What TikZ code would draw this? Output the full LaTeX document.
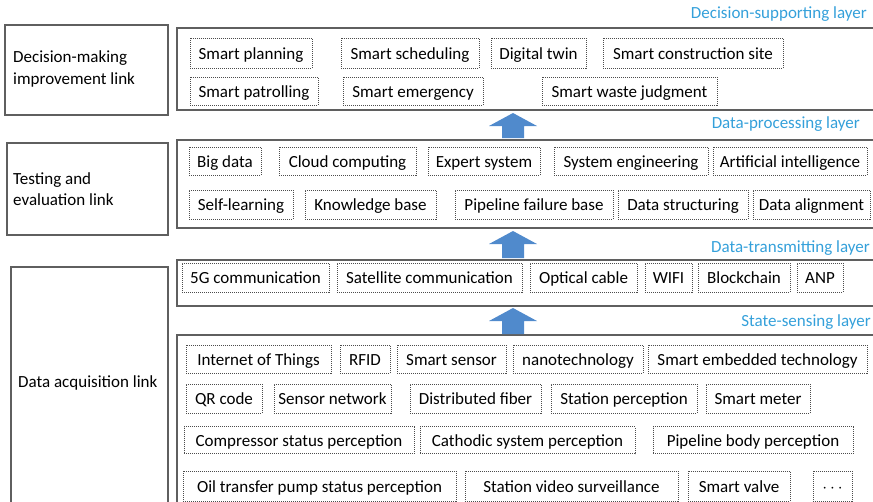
\documentclass[tikz,border=0pt]{standalone}
\usepackage{fontspec}
\setmainfont{Carlito}
\definecolor{layerblue}{RGB}{52,160,218}
\definecolor{arrowblue}{RGB}{80,138,204}
\definecolor{framegray}{RGB}{95,95,95}
\tikzset{
  frame/.style={draw=framegray, line width=1.6pt},
  item/.style={draw=framegray!80!black, line width=1pt, densely dotted, inner xsep=1pt, inner ysep=0pt,
    text height=13pt, text depth=1pt, font=\fontsize{17}{20}\selectfont},
  layername/.style={text=layerblue, anchor=east, inner sep=0pt, font=\fontsize{17}{20}\selectfont},
  linkname/.style={anchor=west, align=left, inner sep=0pt, font=\fontsize{17}{21.5}\selectfont},
  uparrow/.style={fill=arrowblue}
}
\begin{document}
\begin{tikzpicture}[x=1pt,y=-1pt]
  \useasboundingbox (0,0) rectangle (873,501);
  \clip (0,0) rectangle (873,501);

  % Left link boxes
  \draw[frame] (5,25) rectangle (168,115);
  \node[linkname] (decisionlink) at (13,69) {Decision-making\\improvement link};
  \draw[frame] (7,143) rectangle (168,235);
  \node[linkname] (testinglink) at (13,189) {Testing and\\evaluation link};
  \draw[frame] (11,267) rectangle (168,520);
  \node[linkname] (acquisitionlink) at (18,383) {Data acquisition link};

  % Layer frames
  \draw[frame] (177,28) rectangle (890,110);
  \draw[frame] (177,140) rectangle (890,228);
  \draw[frame] (177,260) rectangle (890,306);
  \draw[frame] (177,335) rectangle (890,520);

  % Layer names
  \node[layername] (decisionlayer) at (867,14) {Decision-supporting layer};
  \node[layername] (processinglayer) at (860,124) {Data-processing layer};
  \node[layername] (transmittinglayer) at (870,248) {Data-transmitting layer};
  \node[layername] (sensinglayer) at (871,322) {State-sensing layer};

  % Arrows between layers
  \foreach \yt/\yb in {113/138, 231/258, 308/334} {
    \fill[uparrow] (513,\yt) -- (537,\yt+13) -- (524,\yt+13) -- (524,\yb)
      -- (502,\yb) -- (502,\yt+13) -- (489,\yt+13) -- cycle; % Block arrow
  }

  % Decision-supporting layer
  \foreach \a/\b/\t [count=\i] in {190/312/Smart planning, 341/479/Smart scheduling,
      491/586/Digital twin, 603/783/Smart construction site}
    \node[item, minimum width=\b-\a, minimum height=30] (dsA\i) at ({(\a+\b)/2},53) {\t};
  \foreach \a/\b/\t [count=\i] in {190/318/Smart patrolling, 343/483/Smart emergency,
      542/717/Smart waste judgment}
    \node[item, minimum width=\b-\a, minimum height=28] (dsB\i) at ({(\a+\b)/2},91) {\t};

  % Data-processing layer
  \foreach \a/\b/\t [count=\i] in {189/261/Big data, 279/416/Cloud computing,
      428/540/Expert system, 554/708/System engineering, 713/867/Artificial intelligence}
    \node[item, minimum width=\b-\a, minimum height=28] (dpA\i) at ({(\a+\b)/2},161) {\t};
  \foreach \a/\b/\t [count=\i] in {189/293/Self-learning, 305/436/Knowledge base,
      455/613/Pipeline failure base, 618/748/Data structuring, 753/870/Data alignment}
    \node[item, minimum width=\b-\a, minimum height=29] (dpB\i) at ({(\a+\b)/2},204.5) {\t};

  % Data-transmitting layer
  \foreach \a/\b/\t [count=\i] in {182/329/5G communication, 337/522/Satellite communication,
      530/637/Optical cable, 645/692/WIFI, 698/790/Blockchain, 797/843/ANP}
    \node[item, minimum width=\b-\a, minimum height=29] (dt\i) at ({(\a+\b)/2},277.5) {\t};

  % State-sensing layer
  \foreach \a/\b/\t [count=\i] in {186/331/Internet of Things, 340/390/RFID,
      397/506/Smart sensor, 513/643/nanotechnology, 648/867/Smart embedded technology}
    \node[item, minimum width=\b-\a, minimum height=28] (ssA\i) at ({(\a+\b)/2},359) {\t};
  \foreach \a/\b/\t [count=\i] in {186/262/QR code, 274/391/Sensor network,
      410/541/Distributed fiber, 551/697/Station perception, 706/810/Smart meter}
    \node[item, minimum width=\b-\a, minimum height=29] (ssB\i) at ({(\a+\b)/2},398.5) {\t};
  \foreach \a/\b/\t [count=\i] in {184/414/Compressor status perception,
      420/635/Cathodic system perception, 653/853/Pipeline body perception}
    \node[item, minimum width=\b-\a, minimum height=27] (ssC\i) at ({(\a+\b)/2},440) {\t};
  \foreach \a/\b/\t [count=\i] in {183/456/Oil transfer pump status perception,
      465/678/Station video surveillance, 688/790/Smart valve, 813/852/$\cdots$}
    \node[item, minimum width=\b-\a, minimum height=30] (ssD\i) at ({(\a+\b)/2},486) {\t};
\end{tikzpicture}
\end{document}
